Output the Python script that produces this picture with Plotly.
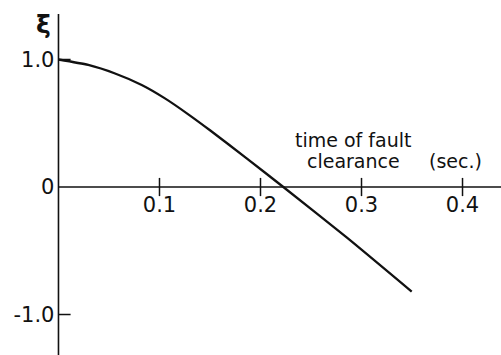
import plotly.graph_objects as go

# Normalized response ξ versus time of fault clearance (sec.)
clear_time = [0.0, 0.0295, 0.056, 0.0824, 0.1054, 0.1285, 0.150, 0.1863, 0.2226, 0.2853, 0.3497]
xi = [1.0, 0.957, 0.89, 0.80, 0.695, 0.57, 0.445, 0.225, 0.0, -0.395, -0.82]

x_ticks = [0.1, 0.2, 0.3, 0.4]
x_tick_text = ["0.1", "0.2", "0.3", "0.4"]
y_ticks = [-1.0, 0.0, 1.0]
y_tick_text = ["-1.0", "0", "1.0"]

W, H = 501, 355
x_range = [-0.0579, 0.4381]
y_range = [-1.3176, 1.4667]
x_pos = -x_range[0] / (x_range[1] - x_range[0])
y_pos = -y_range[0] / (y_range[1] - y_range[0])

ink = "#111111"
font = dict(family="DejaVu Sans", size=21, color=ink)

fig = go.Figure()

fig.add_trace(go.Scatter(
    x=clear_time, y=xi, mode="lines",
    line=dict(color=ink, width=2.3, shape="spline", smoothing=0.6),
    hoverinfo="skip", showlegend=False,
))

# tick marks crossing the time axis
fig.add_trace(go.Scatter(
    x=x_ticks, y=[0] * len(x_ticks), mode="markers",
    marker=dict(symbol="line-ns", size=13, line=dict(color=ink, width=1.5)),
    hoverinfo="skip", showlegend=False,
))

shapes = [
    # ξ axis
    dict(type="line", xref="x", yref="y", x0=0, x1=0, y0=y_range[0], y1=1.357,
         line=dict(color=ink, width=1.6)),
    # time axis
    dict(type="line", xref="x", yref="y", x0=0, x1=x_range[1], y0=0, y1=0,
         line=dict(color=ink, width=1.6)),
]
for v in y_ticks:
    if v != 0:
        shapes.append(dict(type="line", xref="x", yref="y", x0=0, x1=0.012, y0=v, y1=v,
                           line=dict(color=ink, width=1.5)))

annotations = [
    dict(text="<b>ξ</b>", xref="paper", yref="paper", x=43 / W, y=1 - 24 / H,
         showarrow=False, font=dict(family="DejaVu Sans", size=25, color=ink),
         xanchor="center", yanchor="middle"),
    dict(text="time of fault", xref="paper", yref="paper", x=293 / W, y=1 - 140 / H,
         showarrow=False, font=dict(family="DejaVu Sans", size=19, color=ink),
         xanchor="left", yanchor="middle"),
    dict(text="clearance", xref="paper", yref="paper", x=305 / W, y=1 - 161 / H,
         showarrow=False, font=dict(family="DejaVu Sans", size=19, color=ink),
         xanchor="left", yanchor="middle"),
    dict(text="(sec.)", xref="paper", yref="paper", x=427 / W, y=1 - 161 / H,
         showarrow=False, font=dict(family="DejaVu Sans", size=19, color=ink),
         xanchor="left", yanchor="middle"),
]

fig.update_layout(
    width=W, height=H,
    margin=dict(l=0, r=0, t=0, b=0),
    paper_bgcolor="white", plot_bgcolor="white",
    shapes=shapes, annotations=annotations,
    xaxis=dict(range=x_range, anchor="free", position=y_pos,
               showgrid=False, zeroline=False, showline=False, ticks="",
               tickvals=x_ticks, ticktext=x_tick_text, tickfont=font,
               ticklabelstandoff=3),
    yaxis=dict(range=y_range, anchor="free", position=x_pos,
               showgrid=False, zeroline=False, showline=False, ticks="",
               tickvals=y_ticks, ticktext=y_tick_text, tickfont=font,
               ticklabelstandoff=4),
)

fig.write_html("out.html")
